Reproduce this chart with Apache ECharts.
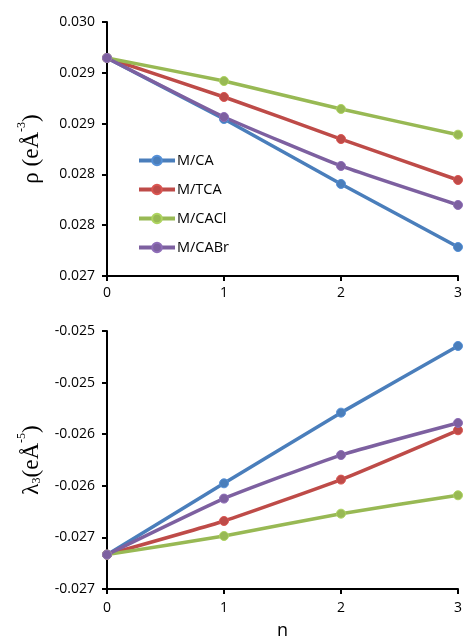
<!DOCTYPE html>
<html>
<head>
<meta charset="utf-8">
<script src="https://cdn.jsdelivr.net/npm/echarts@6/dist/echarts.min.js"></script>
<style>
  html, body { margin: 0; padding: 0; background: #fff; }
  #main { width: 463px; height: 642px; }
</style>
</head>
<body>
<div id="main"></div>
<script>
// x positions (n)
var nValues = [0, 1, 2, 3];
var seriesNames = ['M/CA', 'M/TCA', 'M/CACl', 'M/CABr'];
var colors = ['#4a7ebb', '#be4b48', '#98b954', '#7d60a0'];

// top panel: rho
var rhoCA   = [0.029646, 0.029045, 0.028406, 0.027785];
var rhoTCA  = [0.029646, 0.029262, 0.028848, 0.028445];
var rhoCACl = [0.029646, 0.029419, 0.029144, 0.028891];
var rhoCABr = [0.029646, 0.029065, 0.028583, 0.028199];

// bottom panel: lambda3
var lamCA   = [-0.027167, -0.026476, -0.025791, -0.025145];
var lamTCA  = [-0.027167, -0.026841, -0.026440, -0.025962];
var lamCACl = [-0.027167, -0.026986, -0.026770, -0.026592];
var lamCABr = [-0.027167, -0.026624, -0.026202, -0.025891];

// tick labels as printed (bottom to top)
var rhoTicks = ['0.027', '0.028', '0.028', '0.029', '0.029', '0.030'];
var lamTicks = ['-0.027', '-0.027', '-0.026', '-0.026', '-0.025', '-0.025'];

var myChart = echarts.init(document.getElementById('main'));

var font = '"Open Sans", sans-serif';

let pairs = (vals) => vals.map((v, i) => [nValues[i], v]);

let makeSeries = (name, vals, idx, color) => ({
  name: name,
  type: 'line',
  xAxisIndex: idx,
  yAxisIndex: idx,
  smooth: 0.15,
  symbol: 'circle',
  symbolSize: 9,
  clip: false,
  lineStyle: { width: 3.5, color: color },
  itemStyle: { color: color, borderColor: echarts.color.lift(color, -0.15), borderWidth: 1 },
  data: pairs(vals)
});

let axisLine = { show: true, lineStyle: { color: '#000', width: 2 } };
let axisTick = { show: true, inside: false, length: 5, lineStyle: { color: '#000', width: 2 } };

let xAxisCfg = (idx, margin, extra) => Object.assign({
  type: 'value',
  gridIndex: idx,
  min: 0,
  max: 3,
  interval: 1,
  axisLine: axisLine,
  axisTick: axisTick,
  splitLine: { show: false },
  axisLabel: {
    margin: margin,
    color: '#000',
    fontFamily: font,
    fontSize: 14,
    formatter: (v) => String(v)
  }
}, extra || {});

let yAxisCfg = (idx, min, ticks, name, rich) => ({
  type: 'value',
  gridIndex: idx,
  min: min,
  max: min + 0.0025,
  interval: 0.0005,
  axisLine: axisLine,
  axisTick: axisTick,
  splitLine: { show: false },
  axisLabel: {
    margin: 12,
    color: '#000',
    fontFamily: font,
    fontSize: 14,
    formatter: (v) => ticks[Math.round((v - min) / 0.0005)]
  },
  name: name,
  nameLocation: 'middle',
  nameGap: 64,
  nameTextStyle: { rich: rich }
});

let serif = '"Liberation Serif", "DejaVu Serif", serif';

var option = {
  backgroundColor: '#fff',
  animation: false,
  grid: [
    { left: 107, right: 5, top: 22, height: 254, outerBoundsMode: 'none' },
    { left: 107, right: 5, top: 331, height: 258, outerBoundsMode: 'none' }
  ],
  legend: {
    orient: 'vertical',
    left: 132,
    top: 148,
    itemWidth: 36,
    itemHeight: 12,
    itemGap: 14,
    data: seriesNames,
    lineStyle: { width: 4 },
    textStyle: { color: '#000', fontFamily: font, fontSize: 14.5, padding: [0, 0, 0, -3] }
  },
  xAxis: [
    xAxisCfg(0, 10),
    xAxisCfg(1, 12, {
      name: 'n',
      nameLocation: 'middle',
      nameGap: 33,
      nameTextStyle: { color: '#000', fontFamily: font, fontSize: 18 }
    })
  ],
  yAxis: [
    yAxisCfg(0, 0.0275, rhoTicks, '{a|ρ (eÅ}{s|-3}{a|)}', {
      a: { fontFamily: serif, fontSize: 23, color: '#000', verticalAlign: 'bottom', lineHeight: 27 },
      s: { fontFamily: serif, fontSize: 12, color: '#000', verticalAlign: 'top', lineHeight: 27 }
    }),
    yAxisCfg(1, -0.0275, lamTicks, '{a|λ}{b|3}{a|(eÅ}{s|-5}{a|)}', {
      a: { fontFamily: serif, fontSize: 23, color: '#000', verticalAlign: 'bottom', lineHeight: 27 },
      b: { fontFamily: serif, fontSize: 12, color: '#000', verticalAlign: 'bottom', lineHeight: 23 },
      s: { fontFamily: serif, fontSize: 12, color: '#000', verticalAlign: 'top', lineHeight: 27 }
    })
  ],
  series: [
    makeSeries('M/CA', rhoCA, 0, colors[0]),
    makeSeries('M/TCA', rhoTCA, 0, colors[1]),
    makeSeries('M/CACl', rhoCACl, 0, colors[2]),
    makeSeries('M/CABr', rhoCABr, 0, colors[3]),
    makeSeries('M/CA', lamCA, 1, colors[0]),
    makeSeries('M/TCA', lamTCA, 1, colors[1]),
    makeSeries('M/CACl', lamCACl, 1, colors[2]),
    makeSeries('M/CABr', lamCABr, 1, colors[3])
  ]
};

myChart.setOption(option);
</script>
</body>
</html>
